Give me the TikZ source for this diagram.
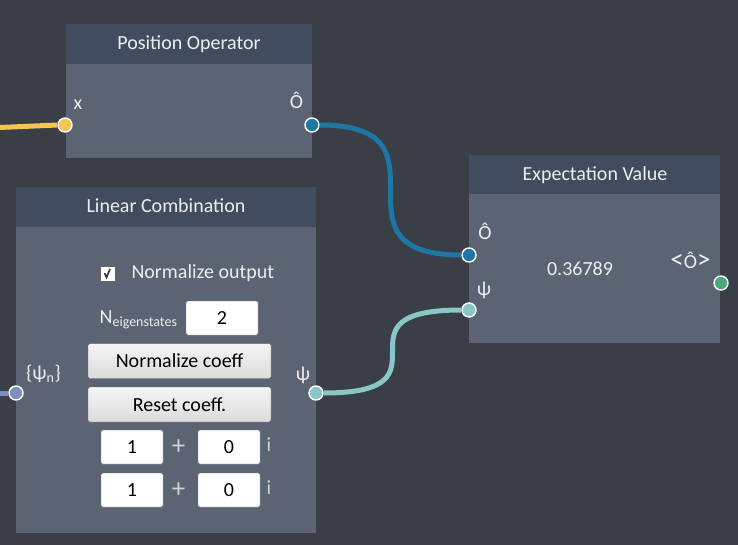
\documentclass[tikz,border=0pt]{standalone}
\usepackage{fontspec}
\setmainfont{Carlito}
\usetikzlibrary{positioning}
\definecolor{bgcol}{RGB}{58,62,70}
\definecolor{hdrcol}{RGB}{65,77,95}
\definecolor{bdycol}{RGB}{92,100,115}
\definecolor{txtcol}{RGB}{236,238,240}
\definecolor{opblue}{RGB}{30,118,165}
\definecolor{psiteal}{RGB}{138,198,198}
\definecolor{setlav}{RGB}{128,142,196}
\definecolor{xyellow}{RGB}{244,196,84}
\definecolor{evgreen}{RGB}{74,170,126}
\newcommand{\bigfont}{\fontsize{20}{24}\selectfont}
\newcommand{\symfont}{\fontsize{27}{30}\selectfont}

\begin{document}
\begin{tikzpicture}[x=1pt,y=-1pt,
   every node/.style={font=\bigfont,text=txtcol},
   hdr/.style={fill=hdrcol},
   bdy/.style={fill=bdycol},
   port/.style={circle,draw=white,line width=1.4pt,minimum size=14pt,inner sep=0pt},
   wire/.style={line width=5pt},
   field/.style={draw=black!55,fill=white,rounded corners=1.5pt,text=black,
                 minimum width=62pt,minimum height=34pt,inner sep=0pt},
   btn/.style={draw=black!65,top color=white!96!black,bottom color=white!86!black,
               rounded corners=1.5pt,text=black,minimum width=183pt,minimum height=35pt,inner sep=0pt}]
   \useasboundingbox[fill=bgcol] (0,0) rectangle (738,545);

   % Position Operator
   \fill[hdr] (66,24) rectangle (312,64);
   \fill[bdy] (66,64) rectangle (312,158);
   \node[anchor=base] (posop) at (189,50) {Position Operator};
   \node[anchor=base] (lx) at (78,110) {x};
   \node[anchor=base] (lOout) at (296.5,109) {Ô};

   % Linear Combination
   \fill[hdr] (16,187) rectangle (316,227);
   \fill[bdy] (16,227) rectangle (316,533);
   \node[anchor=base] (lincomb) at (166,213) {Linear Combination};
   \node[draw=black!60,fill=white,minimum size=15pt,inner sep=0pt] (chk) at (107.5,273.5) {};
   \draw[line width=1.6pt,black!80] ([xshift=-3pt,yshift=0.5pt]chk.center) -- ([xshift=-1pt,yshift=-4pt]chk.center) -- ([xshift=2.5pt,yshift=4.5pt]chk.center);
   \node[anchor=base west] (lnorm) at (128,278) {Normalize output};
   \node[field,minimum width=72pt] (neig) at (222,318) {2};
   \node[anchor=base east] (lneig) at (181,323) {N\textsubscript{eigenstates}};
   \node[btn] (bnorm) at (179.5,361) {Normalize coeff};
   \node[btn] (breset) at (179.5,404.5) {Reset coeff.};
   \foreach \y [count=\k] in {447,490} {
      \node[field] (re\k) at (132,\y) {1};
      \node[font=\symfont,text=txtcol!80!bdycol] (plus\k) at (178.5,\y) {+};
      \node[field] (im\k) at (229,\y) {0};
      \node[text=txtcol!80!bdycol] (i\k) at (269,\y-2) {i};
   }
   \node (lpsin) at (43.5,374) {\{ψ\textsubscript{n}\}};
   \node (lpsi) at (303,375) {ψ};

   % Expectation Value
   \fill[hdr] (469,155) rectangle (720,194);
   \fill[bdy] (469,194) rectangle (720,343);
   \node[anchor=base] (expval) at (595,181) {Expectation Value};
   \node[anchor=base] (lOin) at (485,240) {Ô};
   \node (lpsiin) at (484,290) {ψ};
   \node[anchor=base] (val) at (580,275) {0.36789};
   \node[anchor=base,inner xsep=0pt] (lexp) at (690.5,268) {{\symfont <}Ô{\symfont >}};

   % ports
   \node[port,fill=xyellow] (px) at (65,125) {};
   \node[port,fill=opblue] (pOout) at (312,125) {};
   \node[port,fill=setlav] (ppsin) at (16,393) {};
   \node[port,fill=psiteal] (ppsi) at (316,393) {};
   \node[port,fill=opblue] (pOin) at (469,255) {};
   \node[port,fill=psiteal] (ppsiin) at (469,310) {};
   \node[port,fill=evgreen] (pexp) at (721,283) {};

   % wires
   \coordinate (xsrc) at (0,127.5);
   \coordinate (psinsrc) at (0,393);
   \draw[wire,xyellow] (xsrc) -- (px.west);
   \draw[wire,setlav] (psinsrc) -- (ppsin.west);
   \draw[wire,opblue] (pOout.east) .. controls (pOout.east -| pOin.west) and (pOin.west -| pOout.east) .. (pOin.west);
   \draw[wire,psiteal] (ppsi.east) .. controls (ppsi.east -| ppsiin.west) and (ppsiin.west -| ppsi.east) .. (ppsiin.west);
\end{tikzpicture}
\end{document}
